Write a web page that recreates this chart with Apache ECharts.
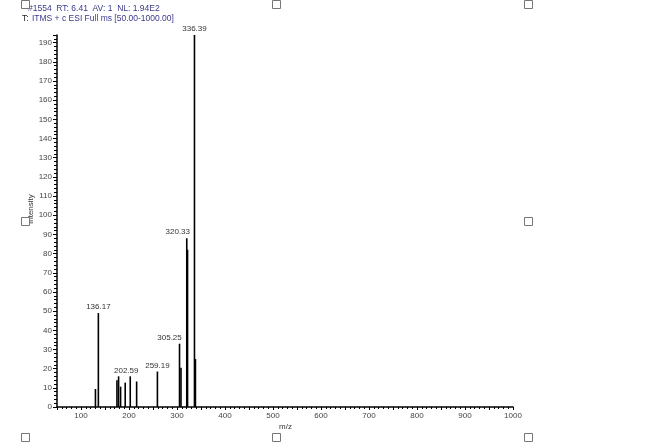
<!DOCTYPE html>
<html>
<head>
<meta charset="utf-8">
<script src="https://cdn.jsdelivr.net/npm/echarts@6/dist/echarts.min.js"></script>
<style>html,body{margin:0;padding:0;background:#fff;}#c{width:647px;height:448px;}</style>
</head>
<body>
<div id="c"></div>
<script>
// m/z positions and relative intensities
const mz = [130.1, 136.17, 174.9, 178.3, 182.5, 192.1, 202.59, 215.9, 259.19, 305.25, 308.3, 320.33, 322.0, 336.39, 338.4];
const intensity = [9.4, 49, 14, 16, 10.6, 12.7, 16, 13.3, 18.5, 33, 20.5, 88, 82, 194, 25];
const peakLabels = ['136.17', '202.59', '259.19', '305.25', '320.33', '336.39'];
const labelShift = {'202.59': -4, '305.25': -10, '320.33': -9};
const xTickLabels = [100, 200, 300, 400, 500, 600, 700, 800, 900, 1000];
const headerLine1 = '#1554  RT: 6.41  AV: 1  NL: 1.94E2';
const headerLine2 = 'ITMS + c ESI Full ms [50.00-1000.00]';

const chart = echarts.init(document.getElementById('c'), null, {renderer: 'canvas'});
const font = 'Liberation Sans';
const data = mz.map((m, i) => {
  const lbl = m.toFixed(2);
  const item = {value: [m, intensity[i]]};
  if (peakLabels.indexOf(lbl) >= 0) {
    item.label = {show: true, formatter: lbl};
  }
  return item;
});

const handles = [[21,0],[272,0],[524,0],[21,217],[524,217],[21,433],[272,433],[524,433]].map(p => ({
  type: 'rect', shape: {x: p[0] + 0.5, y: p[1] + 0.5, width: 8, height: 8},
  style: {fill: '#fff', stroke: '#777', lineWidth: 1}, z: 100
}));

chart.setOption({
  animation: false,
  textStyle: {fontFamily: font},
  grid: {left: 57, right: 134, top: 35, bottom: 41, containLabel: false},
  graphic: [
    {type: 'text', left: 28, top: 4, style: {text: headerLine1, fill: '#3a3a8c', font: '8.5px ' + font}},
    {type: 'text', left: 22, top: 13, style: {
      text: '{k|T:} {v|' + headerLine2 + '}',
      rich: {k: {fill: '#222', font: '8.5px ' + font}, v: {fill: '#3a3a8c', font: '8.5px ' + font}}
    }},
    {type: 'text', left: 279, top: 423, style: {text: 'm/z', fill: '#333', font: '8px ' + font}},
    {type: 'text', x: 27, y: 224, rotation: Math.PI / 2, style: {text: 'Intensity', fill: '#333', font: '8px ' + font}}
  ].concat(handles),
  xAxis: {
    type: 'value', min: 50, max: 1000, interval: 50,
    axisLine: {show: true, lineStyle: {color: '#000', width: 1.5}},
    axisTick: {show: true, length: 3, lineStyle: {color: '#000', width: 1}},
    minorTick: {show: true, splitNumber: 5, length: 2, lineStyle: {color: '#000', width: 1}},
    splitLine: {show: false},
    axisLabel: {
      fontSize: 8, color: '#444', margin: 5, fontFamily: font,
      formatter: v => (xTickLabels.indexOf(v) >= 0 ? String(v) : ''),
      showMinLabel: false
    }
  },
  yAxis: {
    type: 'value', min: 0, max: 194, interval: 10,
    axisLine: {show: true, lineStyle: {color: '#000', width: 1.5}},
    axisTick: {show: true, length: 4, lineStyle: {color: '#000', width: 1}},
    minorTick: {show: true, splitNumber: 5, length: 3, lineStyle: {color: '#000', width: 1}},
    splitLine: {show: false},
    axisLabel: {fontSize: 8, color: '#444', margin: 5, fontFamily: font, showMaxLabel: false}
  },
  series: [{
    type: 'bar',
    data: data,
    barWidth: 1.6,
    itemStyle: {color: '#000'},
    label: {position: 'top', fontSize: 8, color: '#333', distance: 2, fontFamily: font},
    labelLayout: function (p) {
      const t = p.text;
      if (labelShift[t] !== undefined) return {dx: labelShift[t], dy: 0};
      return {};
    }
  }]
});
</script>
</body>
</html>
